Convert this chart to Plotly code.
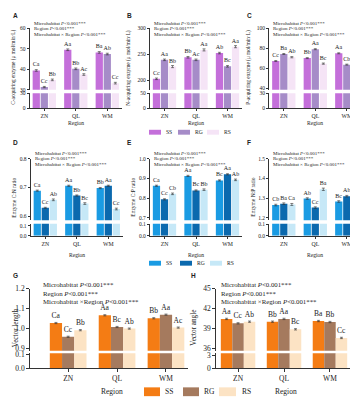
import plotly.graph_objects as go

W, H = 358, 400
REGIONS = ["ZN", "QL", "WM"]
SERIES = ["SS", "RG", "RS"]

# ---------------- data ----------------
A_SS = [39.4, 49.5, 48.2]; A_RG = [31.3, 40.2, 47.4]; A_RS = [34.8, 37.4, 33.2]
A_SS_L = ["Ca", "Aa", "Ba"]; A_RG_L = ["Cc", "Bb", "Ab"]; A_RS_L = ["Bb", "Ac", "Cc"]
A_SS_E = [0.4, 0.4, 0.4]; A_RG_E = [0.3, 0.4, 0.4]; A_RS_E = [0.4, 0.4, 0.4]

B_SS = [203.0, 244.4, 252.5]; B_RG = [239.5, 239.5, 227.0]; B_RS = [226.5, 258.6, 264.8]
B_SS_L = ["Cc", "Bb", "Ab"]; B_RG_L = ["Aa", "Ac", "Bc"]; B_RS_L = ["Bb", "Aa", "Aa"]
B_SS_E = [1.5, 1.5, 1.5]; B_RG_E = [1.5, 1.5, 1.5]; B_RS_E = [2.0, 2.0, 2.0]

C_SS = [67.4, 70.3, 75.1]; C_RG = [74.4, 79.2, 63.8]; C_RS = [71.2, 64.8, 48.1]
C_SS_L = ["Cc", "Bb", "Aa"]; C_RG_L = ["Ba", "Aa", "Cb"]; C_RS_L = ["Ab", "Bc", "Cc"]
C_SS_E = [0.5, 0.5, 0.5]; C_RG_E = [0.5, 0.5, 0.5]; C_RS_E = [0.6, 0.6, 0.6]

D_SS = [0.689, 0.706, 0.698]; D_RG = [0.629, 0.672, 0.706]; D_RS = [0.657, 0.644, 0.625]
D_SS_L = ["Ca", "Aa", "Bb"]; D_RG_L = ["Cc", "Bb", "Aa"]; D_RS_L = ["Ab", "Bc", "Cc"]
D_SS_E = [0.002, 0.002, 0.002]; D_RG_E = [0.002, 0.002, 0.002]; D_RS_E = [0.003, 0.003, 0.003]

E_SS = [0.863, 0.913, 0.890]; E_RG = [0.794, 0.839, 0.921]; E_RS = [0.822, 0.843, 0.893]
E_SS_L = ["Ca", "Aa", "Bc"]; E_RG_L = ["Cc", "Bc", "Aa"]; E_RS_L = ["Cb", "Bb", "Ab"]
E_SS_E = [0.003, 0.003, 0.003]; E_RG_E = [0.003, 0.003, 0.003]; E_RS_E = [0.004, 0.004, 0.004]

F_SS = [1.265, 1.298, 1.283]; F_RG = [1.272, 1.252, 1.310]; F_RS = [1.268, 1.345, 1.455]
F_SS_L = ["Cb", "Ab", "Bc"]; F_RG_L = ["Ba", "Cc", "Ab"]; F_RS_L = ["Ca", "Ba", "Aa"]
F_SS_E = [0.004, 0.004, 0.004]; F_RG_E = [0.004, 0.004, 0.004]; F_RS_E = [0.005, 0.006, 0.006]

G_SS = [1.028, 1.067, 1.052]; G_RG = [0.959, 1.008, 1.070]; G_RS = [0.992, 1.000, 1.005]
G_SS_L = ["Ca", "Aa", "Bb"]; G_RG_L = ["Cc", "Bc", "Aa"]; G_RS_L = ["Bb", "Ab", "Ac"]
G_SS_E = [0.003, 0.003, 0.003]; G_RG_E = [0.003, 0.003, 0.003]; G_RS_E = [0.003, 0.003, 0.003]

H_SS = [40.47, 40.05, 40.15]; H_RG = [39.80, 40.47, 40.00]; H_RS = [40.05, 38.90, 37.60]
H_SS_L = ["Aa", "Bb", "Ba"]; H_RG_L = ["Cc", "Aa", "Bb"]; H_RS_L = ["Ab", "Bc", "Cc"]
H_SS_E = [0.10, 0.10, 0.10]; H_RG_E = [0.10, 0.10, 0.10]; H_RS_E = [0.10, 0.10, 0.10]

STAT_LINES = ["Microhabitat <i>P</i>&lt;0.001***",
              "Region <i>P</i>&lt;0.001***",
              "Microhabitat × Region <i>P</i>&lt;0.001***"]
STAT_LINES_3 = ["Microhabitat <i>P</i>&lt;0.001***",
                "Region <i>P</i>&lt;0.001***",
                "Microhabitat ×Region <i>P</i>&lt;0.001***"]

# ---------------- styling / layout ----------------
SERIF = "Liberation Serif"
SANS = "Liberation Sans"
INK = "#222222"

ROWS = [
    dict(lo=(98.5, 83.0), up=(79.5, 16.5),
         colors=["#C46FDA", "#A68CC8", "#F5E4F6"],
         tick=5.5, xtick=5.8, let=6.0, stat=5.0, ytitle=5.3, xtitle=5.6,
         stat_y=[11.7, 17.3, 23.3], xt_y=113.3, ticklen=2,
         centers=[-0.255, 0.0, 0.255], bw=0.23, lines=STAT_LINES,
         leg_y=123, leg_h=5, leg_box=[(141, 153), (170, 182), (199, 211)],
         leg_tx=[156, 185, 214], leg_font=5.6, ytitle_y=57, letter_y=4),
    dict(lo=(229.0, 216.5), up=(213.0, 150.0),
         colors=["#1A9BE3", "#0B69AE", "#C6E8F7"],
         tick=5.5, xtick=5.8, let=6.0, stat=5.0, ytitle=5.5, xtitle=5.6,
         stat_y=[144.7, 150.0, 155.7], xt_y=248.3, ticklen=2,
         centers=[-0.255, 0.0, 0.255], bw=0.23, lines=STAT_LINES,
         leg_y=257, leg_h=5, leg_box=[(141, 153), (172, 184), (202, 214)],
         leg_tx=[156, 187, 217], leg_font=5.6, ytitle_y=190, letter_y=134),
    dict(lo=(364.5, 349.0), up=(346.5, 283.0),
         colors=["#F47C14", "#A57A5E", "#FCE3C4"],
         tick=7.5, xtick=7.5, let=7.5, stat=6.8, ytitle=7.2, xtitle=7.5,
         stat_y=[279.0, 287.5, 296.0], xt_y=388.5, ticklen=3,
         centers=[-0.25, 0.0, 0.25], bw=0.25, lines=STAT_LINES_3,
         leg_y=388.5, leg_h=9, leg_box=[(136, 152), (175, 191), (211, 228)],
         leg_tx=[155, 194, 232], leg_font=7.5, ytitle_y=323, letter_y=270),
]

PANELS = [
    dict(row=0, tag="A", tag_x=3, xd=(21.5, 114.1), xr=(-0.47, 2.47),
         vals=(A_SS, A_RG, A_RS), lets=(A_SS_L, A_RG_L, A_RS_L), errs=(A_SS_E, A_RG_E, A_RS_E),
         up=(30, 60.05), upt=[30, 40, 50, 60], lo=(0, 30.3), lot=[0, 30], fmt="{:g}",
         ytitle="C-acquiring enzyme (μ mol/min·L)", ytx=6, stx=23.5),
    dict(row=0, tag="B", tag_x=117, xd=(141.7, 234.3), xr=(-0.47, 2.47),
         vals=(B_SS, B_RG, B_RS), lets=(B_SS_L, B_RG_L, B_RS_L), errs=(B_SS_E, B_RG_E, B_RS_E),
         up=(182, 300.5), upt=[200, 250, 300], lo=(0, 50.5), lot=[0, 50], fmt="{:g}",
         ytitle="N-acquiring enzyme (μ mol/min·L)", ytx=121, stx=143.5),
    dict(row=0, tag="C", tag_x=237, xd=(261, 353.6), xr=(-0.47, 2.47),
         vals=(C_SS, C_RG, C_RS), lets=(C_SS_L, C_RG_L, C_RS_L), errs=(C_SS_E, C_RG_E, C_RS_E),
         up=(38.8, 100.2), upt=[40, 60, 80, 100], lo=(0, 30.3), lot=[0, 30], fmt="{:g}",
         ytitle="P-acquiring enzyme (μ mol/min·L)", ytx=241, stx=262.5),
    dict(row=1, tag="D", tag_x=3, xd=(22.5, 115.1), xr=(-0.47, 2.47),
         vals=(D_SS, D_RG, D_RS), lets=(D_SS_L, D_RG_L, D_RS_L), errs=(D_SS_E, D_RG_E, D_RS_E),
         up=(0.586, 0.8005), upt=[0.6, 0.7, 0.8], lo=(0, 0.121), lot=[0, 0.1], fmt="{:.1f}",
         ytitle="Enzyme C:N ratio", ytx=6, stx=25),
    dict(row=1, tag="E", tag_x=117, xd=(141.7, 234.3), xr=(-0.47, 2.47),
         vals=(E_SS, E_RG, E_RS), lets=(E_SS_L, E_RG_L, E_RS_L), errs=(E_SS_E, E_RG_E, E_RS_E),
         up=(0.688, 1.0008), upt=[0.7, 0.8, 0.9, 1.0], lo=(0, 0.108), lot=[0, 0.1], fmt="{:.1f}",
         ytitle="Enzyme C:P ratio", ytx=125, stx=143.5),
    dict(row=1, tag="F", tag_x=237, xd=(261, 353.6), xr=(-0.47, 2.47),
         vals=(F_SS, F_RG, F_RS), lets=(F_SS_L, F_RG_L, F_RS_L), errs=(F_SS_E, F_RG_E, F_RS_E),
         up=(1.188, 1.5008), upt=[1.2, 1.3, 1.4, 1.5], lo=(0, 0.108), lot=[0, 0.1], fmt="{:.1f}",
         ytitle="Enzyme N:P ratio", ytx=245, stx=262.5),
    dict(row=2, tag="G", tag_x=3, xd=(22, 180), xr=(-0.78, 2.45),
         vals=(G_SS, G_RG, G_RS), lets=(G_SS_L, G_RG_L, G_RS_L), errs=(G_SS_E, G_RG_E, G_RS_E),
         up=(0.889, 1.2008), upt=[0.9, 1.0, 1.1, 1.2], lo=(0, 0.107), lot=[0, 0.1], fmt="{:.1f}",
         ytitle="Vector length", ytx=7.5, stx=33, xtx=104),
    dict(row=2, tag="H", tag_x=181, xd=(208, 350), xr=(-0.48, 2.61),
         vals=(H_SS, H_RG, H_RS), lets=(H_SS_L, H_RG_L, H_RS_L), errs=(H_SS_E, H_RG_E, H_RS_E),
         up=(35.68, 45.03), upt=[36, 39, 42, 45], lo=(0, 3.43), lot=[0, 3], fmt="{:g}",
         ytitle="Vector angle", ytx=186, stx=211, xtx=278),
]


def fx(p):
    return p / W


def fy(p):
    return 1 - p / H


def key(kind, n):
    return f"{kind}axis" if n == 1 else f"{kind}axis{n}"


def ref(kind, n):
    return kind if n == 1 else f"{kind}{n}"


fig = go.Figure()
layout = {}
annotations = []
shapes = []

for i, p in enumerate(PANELS):
    r = ROWS[p["row"]]
    xn, yl, yu = i + 1, 2 * i + 1, 2 * i + 2
    for s in range(3):
        for yn, is_up in ((yl, False), (yu, True)):
            kw = dict(
                x=REGIONS, y=p["vals"][s], name=SERIES[s],
                xaxis=ref("x", xn), yaxis=ref("y", yn),
                marker=dict(color=r["colors"][s], line=dict(width=0)),
                width=r["bw"], offset=r["centers"][s] - r["bw"] / 2,
                showlegend=False, hoverinfo="skip",
            )
            if is_up:
                kw.update(
                    text=p["lets"][s], textposition="outside", constraintext="none",
                    textfont=dict(family=SERIF, size=r["let"], color=INK),
                    error_y=dict(type="data", array=p["errs"][s], color="#333333",
                                 thickness=0.6, width=1.5),
                )
            fig.add_trace(go.Bar(**kw))

    axis_common = dict(showline=True, linecolor="#333333", linewidth=0.7,
                       ticks="outside", ticklen=r["ticklen"], tickwidth=0.7,
                       tickcolor="#333333", showgrid=False, zeroline=False,
                       tickfont=dict(family=SERIF, size=r["tick"], color=INK))
    layout[key("x", xn)] = dict(
        axis_common, domain=[fx(p["xd"][0]), fx(p["xd"][1])], range=list(p["xr"]),
        anchor=ref("y", yl), type="category",
        tickfont=dict(family=SERIF, size=r["xtick"], color=INK))
    layout[key("y", yl)] = dict(
        axis_common, domain=[fy(r["lo"][0]), fy(r["lo"][1])], range=list(p["lo"]),
        anchor=ref("x", xn), tickvals=p["lot"],
        ticktext=[p["fmt"].format(v) for v in p["lot"]])
    layout[key("y", yu)] = dict(
        axis_common, domain=[fy(r["up"][0]), fy(r["up"][1])], range=list(p["up"]),
        anchor=ref("x", xn), tickvals=p["upt"],
        ticktext=[p["fmt"].format(v) for v in p["upt"]])

    # panel tag
    annotations.append(dict(text=f"<b>{p['tag']}</b>", x=fx(p["tag_x"]), y=fy(r["letter_y"]),
                            xref="paper", yref="paper", xanchor="left", yanchor="middle",
                            showarrow=False, font=dict(family=SANS, size=6.5, color=INK)))
    # statistics
    for line, ly in zip(r["lines"], r["stat_y"]):
        annotations.append(dict(text=line, x=fx(p["stx"]), y=fy(ly), xref="paper", yref="paper",
                                xanchor="left", yanchor="middle", showarrow=False,
                                font=dict(family=SERIF, size=r["stat"], color=INK)))
    # y title
    annotations.append(dict(text=p["ytitle"], x=fx(p["ytx"]), y=fy(r["ytitle_y"]),
                            xref="paper", yref="paper", xanchor="center", yanchor="middle",
                            textangle=-90, showarrow=False,
                            font=dict(family=SERIF, size=r["ytitle"], color=INK)))
    # x title
    xt_x = p.get("xtx", (p["xd"][0] + p["xd"][1]) / 2)
    annotations.append(dict(text="Region", x=fx(xt_x), y=fy(r["xt_y"]), xref="paper",
                            yref="paper", xanchor="center", yanchor="middle", showarrow=False,
                            font=dict(family=SERIF, size=r["xtitle"], color=INK)))

# legends (one per row)
for r in ROWS:
    for s in range(3):
        x0, x1 = r["leg_box"][s]
        shapes.append(dict(type="rect", xref="paper", yref="paper",
                           x0=fx(x0), x1=fx(x1),
                           y0=fy(r["leg_y"] + r["leg_h"] / 2), y1=fy(r["leg_y"] - r["leg_h"] / 2),
                           fillcolor=r["colors"][s], line=dict(width=0)))
        annotations.append(dict(text=SERIES[s], x=fx(r["leg_tx"][s]), y=fy(r["leg_y"]),
                                xref="paper", yref="paper", xanchor="left", yanchor="middle",
                                showarrow=False,
                                font=dict(family=SERIF, size=r["leg_font"], color=INK)))

fig.update_layout(
    width=W, height=H, autosize=False,
    margin=dict(l=0, r=0, t=0, b=0, pad=0),
    paper_bgcolor="white", plot_bgcolor="white",
    barmode="overlay", showlegend=False,
    annotations=annotations, shapes=shapes,
    **layout,
)

fig.write_html("out.html")
